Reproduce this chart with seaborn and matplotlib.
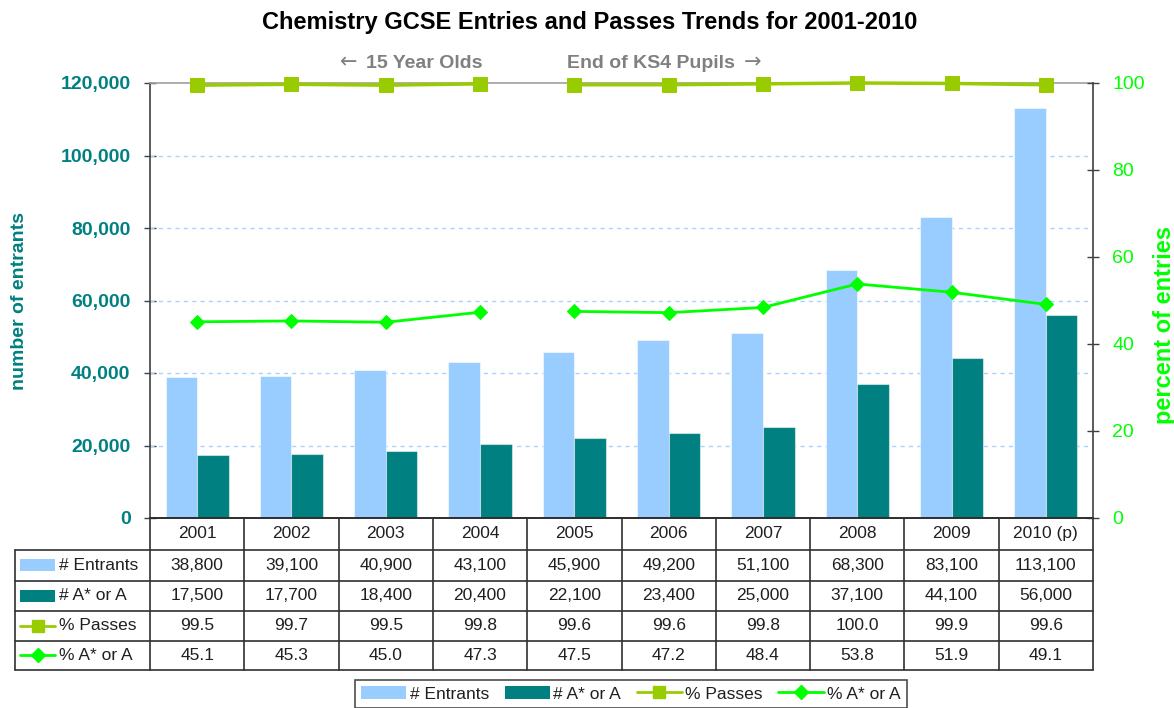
import matplotlib
matplotlib.use('Agg')
import matplotlib.pyplot as plt
import seaborn as sns
import pandas as pd
import numpy as np
from matplotlib.lines import Line2D
from matplotlib.patches import Rectangle, Patch

# ---------------- data ----------------
years = ['2001', '2002', '2003', '2004', '2005', '2006', '2007', '2008', '2009', '2010 (p)']
entrants = [38800, 39100, 40900, 43100, 45900, 49200, 51100, 68300, 83100, 113100]
a_star_a = [17500, 17700, 18400, 20400, 22100, 23400, 25000, 37100, 44100, 56000]
pct_passes = [99.5, 99.7, 99.5, 99.8, 99.6, 99.6, 99.8, 100.0, 99.9, 99.6]
pct_a_star = [45.1, 45.3, 45.0, 47.3, 47.5, 47.2, 48.4, 53.8, 51.9, 49.1]
cohort = ['15 Year Olds'] * 4 + ['End of KS4 Pupils'] * 6
series_names = ['# Entrants', '# A* or A', '% Passes', '% A* or A']
left_ticks = [0, 20000, 40000, 60000, 80000, 100000, 120000]
right_ticks = [0, 20, 40, 60, 80, 100]

c_ent = '#99CCFF'
c_aa = '#008080'
c_pass = '#99CC00'
c_pa = '#00FF00'

sns.set_theme(style='white')
plt.rcParams['font.family'] = ['Liberation Sans', 'DejaVu Sans']

W, H = 1174, 708
fig = plt.figure(figsize=(W / 100, H / 100), dpi=100)
ax_l, ax_r, ax_t, ax_b = 150, 1093, 83, 518
ax = fig.add_axes([ax_l / W, 1 - ax_b / H, (ax_r - ax_l) / W, (ax_b - ax_t) / H])


def fy(p):
    return 1 - p / H


def fx(p):
    return p / W


# ---------------- bars ----------------
df = pd.DataFrame({
    'year': years * 2,
    'count': entrants + a_star_a,
    'series': [series_names[0]] * len(years) + [series_names[1]] * len(years),
})
sns.barplot(data=df, x='year', y='count', hue='series', palette=[c_ent, c_aa],
            width=0.67, saturation=1, ax=ax, legend=False,
            edgecolor=(1, 1, 1, 0.5), linewidth=0.8, zorder=2)
ax.set_ylim(0, 120000)
ax.set_xlim(-0.5, len(years) - 0.5)
ax.set_yticks(left_ticks)
ax.set_yticklabels([f'{v:,}' for v in left_ticks], color=c_aa, fontsize=14, fontweight='bold')
ax.set_xticks([])
ax.set_xlabel('')
ax.set_ylabel('')
for v in left_ticks[1:-1]:
    ax.axhline(v, color='#A8D4FF', lw=1, ls=(0, (3, 3)), zorder=1)
ax.tick_params(axis='y', direction='inout', length=8, width=1, color='#404040', left=True, pad=10)
ax.spines['left'].set_color('#404040')
ax.spines['left'].set_linewidth(1.2)
ax.spines['top'].set_color('#A0A0A0')
ax.spines['top'].set_linewidth(1.2)
ax.spines['bottom'].set_color('#202020')
ax.spines['right'].set_visible(False)

# ---------------- lines ----------------
ax2 = ax.twinx()
ldf = pd.DataFrame({'x': np.arange(len(years)), 'passes': pct_passes,
                    'astar': pct_a_star, 'cohort': cohort})
for coh in ['15 Year Olds', 'End of KS4 Pupils']:
    sub = ldf[ldf['cohort'] == coh]
    sns.lineplot(data=sub, x='x', y='passes', ax=ax2, color=c_pass, lw=2.5,
                 marker='s', markersize=10, markeredgecolor=c_pass, zorder=4, clip_on=False)
    sns.lineplot(data=sub, x='x', y='astar', ax=ax2, color=c_pa, lw=2,
                 marker='D', markersize=7, markeredgecolor=c_pa, zorder=4, clip_on=False)
ax2.set_ylim(0, 100)
ax2.set_xlim(-0.5, len(years) - 0.5)
ax2.set_yticks(right_ticks)
ax2.set_yticklabels([str(v) for v in right_ticks], color=c_pa, fontsize=14)
ax2.set_xlabel('')
ax2.set_ylabel('')
ax2.tick_params(axis='y', direction='inout', length=8, width=1, color='#404040', right=True, pad=10)
ax2.spines['right'].set_color('#404040')
ax2.spines['right'].set_linewidth(1.2)
for s in ['left', 'top', 'bottom']:
    ax2.spines[s].set_visible(False)
ax2.grid(False)

# axis titles
fig.text(fx(20), fy(301), 'number of entrants', rotation=90, ha='center', va='center',
         color=c_aa, fontsize=14, fontweight='bold')
fig.text(fx(1164), fy(325), 'percent of entries', rotation=90, ha='center', va='center',
         color=c_pa, fontsize=17, fontweight='bold')

# ---------------- titles / annotations ----------------
fig.text(fx(590), fy(22), 'Chemistry GCSE Entries and Passes Trends for 2001-2010',
         ha='center', va='center', fontsize=17, fontweight='bold', color='black')
fig.text(fx(349), fy(62), '\u2190', ha='center', va='center', fontsize=15,
         family=['DejaVu Sans'], color='#808080')
fig.text(fx(366), fy(63), '15 Year Olds', ha='left', va='center',
         fontsize=14, fontweight='bold', color='#808080')
fig.text(fx(735), fy(63), 'End of KS4 Pupils', ha='right', va='center',
         fontsize=14, fontweight='bold', color='#808080')
fig.text(fx(753), fy(62), '\u2192', ha='center', va='center', fontsize=15,
         family=['DejaVu Sans'], color='#808080')

# ---------------- data table ----------------
rows = [518, 549.5, 580.5, 610.5, 640.5, 669.5]
tcol = '#303030'
ncol = len(years)
colw = (ax_r - ax_l) / ncol
tab_left = 15
for i in range(ncol + 1):
    x = ax_l + i * colw
    fig.add_artist(Line2D([fx(x), fx(x)], [fy(rows[0]), fy(rows[-1])], color=tcol, lw=1.2))
fig.add_artist(Line2D([fx(tab_left), fx(tab_left)], [fy(rows[1]), fy(rows[-1])], color=tcol, lw=1.2))
fig.add_artist(Line2D([fx(ax_l), fx(ax_r)], [fy(rows[0]), fy(rows[0])], color=tcol, lw=1.2))
for r in rows[1:]:
    fig.add_artist(Line2D([fx(tab_left), fx(ax_r)], [fy(r), fy(r)], color=tcol, lw=1.2))

table_vals = [
    [f'{v:,}' for v in entrants],
    [f'{v:,}' for v in a_star_a],
    [f'{v:.1f}' for v in pct_passes],
    [f'{v:.1f}' for v in pct_a_star],
]
for i, y in enumerate(years):
    xc = ax_l + (i + 0.5) * colw
    fig.text(fx(xc), fy((rows[0] + rows[1]) / 2), y, ha='center', va='center',
             fontsize=12.5, color='#202020')
    for r in range(4):
        fig.text(fx(xc), fy((rows[r + 1] + rows[r + 2]) / 2), table_vals[r][i],
                 ha='center', va='center', fontsize=12.5, color='#202020')

for r, name in enumerate(series_names):
    yc = (rows[r + 1] + rows[r + 2]) / 2
    if r < 2:
        col = [c_ent, c_aa][r]
        fig.add_artist(Rectangle((fx(20), fy(yc + 6)), fx(35), 12 / H, color=col, lw=0))
    else:
        col = [c_pass, c_pa][r - 2]
        fig.add_artist(Line2D([fx(20), fx(55)], [fy(yc), fy(yc)], color=col, lw=2))
        fig.add_artist(Line2D([fx(37.5)], [fy(yc)], color=col, marker=['s', 'D'][r - 2],
                              markersize=[8, 7][r - 2], markeredgecolor=col))
    fig.text(fx(59), fy(yc), name, ha='left', va='center', fontsize=12.5, color='#202020')

# ---------------- legend ----------------
handles = [
    Patch(facecolor=c_ent, edgecolor='none'),
    Patch(facecolor=c_aa, edgecolor='none'),
    Line2D([], [], color=c_pass, lw=2, marker='s', markersize=8, markeredgecolor=c_pass),
    Line2D([], [], color=c_pa, lw=2, marker='D', markersize=7, markeredgecolor=c_pa),
]
leg = fig.legend(handles, series_names, ncol=4, loc='upper center',
                 bbox_to_anchor=(631 / W, fy(680)), frameon=True, fancybox=False,
                 edgecolor='#202020', fontsize=12.5, handlelength=2.6, handleheight=0.8,
                 columnspacing=0.9, handletextpad=0.2, borderpad=0.35, borderaxespad=0)
leg.get_frame().set_linewidth(1.2)
for t in leg.get_texts():
    t.set_color('#202020')

fig.savefig('out.png', dpi=100, facecolor='white')
